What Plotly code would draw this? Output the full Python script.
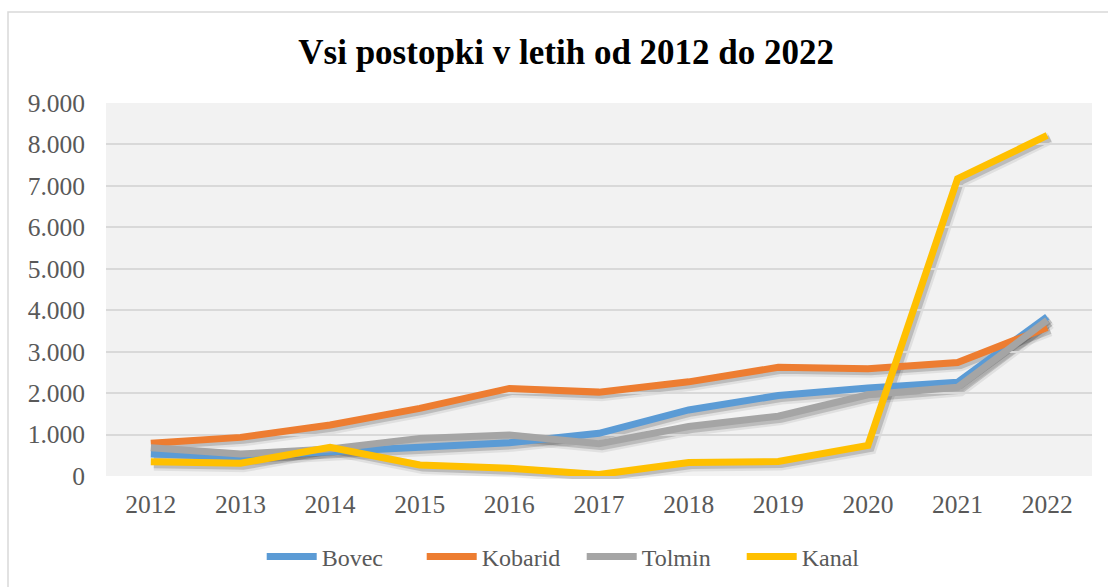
import plotly.graph_objects as go

years = ["2012", "2013", "2014", "2015", "2016", "2017", "2018", "2019", "2020", "2021", "2022"]
bovec = [530, 465, 586, 706, 802, 1029, 1593, 1942, 2123, 2260, 3839]
kobarid = [788, 932, 1229, 1631, 2113, 2024, 2272, 2622, 2588, 2740, 3583]
tolmin = [682, 530, 650, 908, 988, 781, 1195, 1443, 1959, 2140, 3759]
kanal = [345, 306, 692, 265, 186, 35, 323, 349, 737, 7173, 8217]

series = [("Bovec", bovec, "#5B9BD5"), ("Kobarid", kobarid, "#ED7D31"),
          ("Tolmin", tolmin, "#A5A5A5"), ("Kanal", kanal, "#FFC000")]

tick_vals = [0, 1000, 2000, 3000, 4000, 5000, 6000, 7000, 8000, 9000]
tick_text = ["0", "1.000", "2.000", "3.000", "4.000", "5.000", "6.000", "7.000", "8.000", "9.000"]

W, H = 1108, 587
ml, mr, mt, mb = 106, 13, 103, 108
pw = W - ml - mr
ph = H - mt - mb
dx = 3 / pw
dy = 3 / ph

font = "Liberation Serif"
tcol = "#595959"

fig = go.Figure()

for name, vals, col in series:
    fig.add_trace(go.Scatter(x=years, y=vals, mode="lines", xaxis="x", yaxis="y",
                             line=dict(color="rgba(0,0,0,0.07)", width=12), showlegend=False,
                             hoverinfo="skip"))
    fig.add_trace(go.Scatter(x=years, y=vals, mode="lines", xaxis="x", yaxis="y",
                             line=dict(color="rgba(0,0,0,0.16)", width=7), showlegend=False,
                             hoverinfo="skip"))

for name, vals, col in series:
    fig.add_trace(go.Scatter(x=years, y=vals, mode="lines", name=name, xaxis="x2", yaxis="y2",
                             line=dict(color=col, width=7)))

fig.update_layout(
    template="none",
    width=W, height=H,
    margin=dict(l=ml, r=mr, t=mt, b=mb, autoexpand=False),
    paper_bgcolor="white",
    plot_bgcolor="rgba(0,0,0,0)",
    title=dict(text="<b>Vsi postopki v letih od 2012 do 2022</b>", x=0.511, xref="container",
               y=1 - 52 / H, yref="container", xanchor="center", yanchor="middle",
               font=dict(family=font, size=35, color="black")),
    xaxis=dict(domain=[dx, 1], range=[-0.5, 10.5], visible=False, type="category", automargin=False),
    yaxis=dict(domain=[0, 1 - dy], range=[0, 9000], visible=False, automargin=False),
    xaxis2=dict(domain=[0, 1 - dx], range=[-0.5, 10.5], type="category", anchor="y2",
                showgrid=False, zeroline=False, showline=False, ticks="", automargin=False,
                tickfont=dict(family=font, size=25.5, color=tcol), ticklabelstandoff=10),
    yaxis2=dict(domain=[dy, 1], range=[0, 9000], anchor="x2", tickvals=tick_vals, ticktext=tick_text,
                showgrid=True, gridcolor="#D9D9D9", gridwidth=1.5, zeroline=False, showline=False,
                ticks="", automargin=False,
                tickfont=dict(family=font, size=25.5, color=tcol), ticklabelstandoff=20),
    legend=dict(orientation="h", x=0.481, xanchor="center", y=-0.207, yanchor="middle",
                font=dict(family=font, size=24, color=tcol), bgcolor="rgba(0,0,0,0)",
                entrywidth=95, entrywidthmode="pixels", itemwidth=50),
    showlegend=True,
    shapes=[
        dict(type="rect", xref="paper", yref="paper", x0=0, x1=1 - dx, y0=dy, y1=1,
             fillcolor="#F2F2F2", line=dict(width=0), layer="below"),
        dict(type="rect", xref="paper", yref="paper",
             x0=(8 - ml) / pw, x1=(W + 20 - ml) / pw,
             y0=-(mb + 40) / ph, y1=1 + (mt - 12) / ph,
             fillcolor="rgba(0,0,0,0)", line=dict(color="#D9D9D9", width=1.5), layer="below"),
    ],
)

fig.write_html("out.html", config={"displayModeBar": False},
               post_script="document.body.style.margin='0px';document.body.style.overflow='hidden';")
